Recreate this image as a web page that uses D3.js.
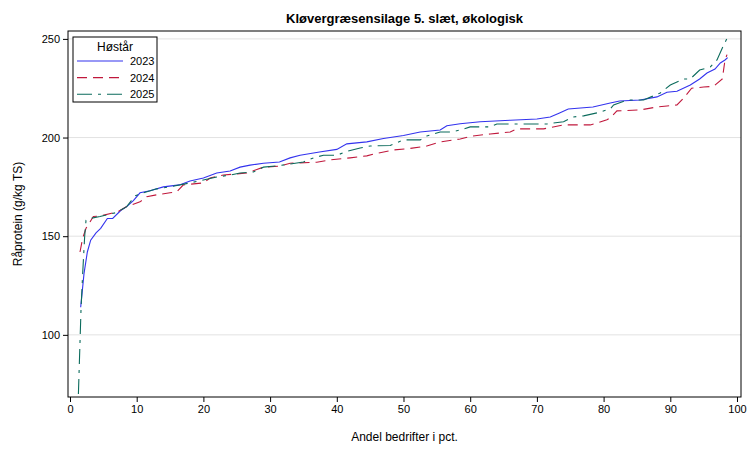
<!DOCTYPE html>
<html>
<head>
<meta charset="utf-8">
<script src="https://cdn.jsdelivr.net/npm/d3@7"></script>
<style>
  body { margin: 0; background: #fff; }
  svg text { font-family: "Liberation Sans", Arial, sans-serif; }
</style>
</head>
<body>
<svg id="chart" width="756" height="454"></svg>
<script>
// values: percentile of farms vs. raw protein
var pct2023 = [1.6, 2.1, 2.6, 3.1, 3.9, 4.6, 5.6, 6.4, 7.6, 8.5, 9.5, 10.5, 12, 14, 16.4, 18, 20, 22, 24, 25.5, 27, 29, 31.4, 33, 34.5, 37.4, 40, 41.5, 44.5, 47, 50, 52.5, 55.5, 56.5, 58.5, 61.5, 66, 70, 72, 73.4, 74.7, 78.4, 81, 82.4, 85.5, 88, 89.5, 91, 93, 94.4, 95.5, 96.7, 97.5, 98.2, 98.6];
var val2023 = [114, 131, 142, 148, 151.7, 154, 159, 159, 163, 165, 168, 172, 173, 175, 176, 178, 179.5, 182, 183, 185, 186, 187, 187.6, 189.7, 191, 192.7, 194, 196.8, 197.8, 199.5, 201, 202.8, 203.8, 206, 207, 208, 208.8, 209.4, 210.4, 212.5, 214.5, 215.5, 217.5, 218.5, 219, 220.6, 223, 223.5, 226.6, 229.7, 232.7, 234.7, 237.8, 239.3, 240.5];

var pct2024 = [1.5, 1.9, 2.4, 2.9, 3.5, 4.6, 7.1, 8.5, 10.5, 11.5, 13, 15, 16, 17, 20, 21, 23, 26.5, 29, 31.4, 33, 37, 39, 42, 44.5, 46, 48.5, 51, 53.5, 55.5, 58.5, 60.4, 63, 66, 67, 71, 74, 78, 79, 80.5, 81, 82, 85.5, 88, 89.5, 91, 92, 93.2, 95, 96.5, 97.8, 98.2, 98.5];
var val2024 = [142, 149, 154, 156.7, 160, 160.3, 162.3, 165, 167.4, 170, 171, 172, 172.5, 176, 177, 179.5, 181, 182, 185, 185.5, 187, 187.5, 188.7, 189.7, 190.7, 192, 193.7, 194.5, 195.7, 197.8, 199.3, 200.8, 201.8, 202.8, 204.4, 204.4, 206.4, 206.4, 207.4, 209, 210, 213.5, 214, 215.5, 216, 216.5, 220, 225, 225.6, 226, 229.7, 239.3, 242];

var pct2025 = [1.26, 1.65, 1.9, 2.2, 2.4, 3, 4.5, 7, 8.5, 9.2, 9.8, 11, 13, 15, 18, 20, 22, 24, 25.5, 27.5, 29, 31, 35, 36.5, 38, 40, 41.5, 43.5, 45, 48, 50, 52.5, 53.5, 55.5, 57, 58.5, 60, 63, 64, 71.5, 74, 75.4, 77, 79, 81, 81.5, 83.5, 86, 88.5, 90, 92, 93, 94.4, 96, 97, 97.8, 98.6];
var val2025 = [70, 112.7, 131, 150, 158, 159, 160, 162, 165, 168, 170.5, 172, 174, 175, 177, 178.5, 180, 181, 182, 182.6, 185, 185.6, 187.6, 189.7, 191, 191, 193, 194.7, 195.7, 196, 198.8, 198.8, 200.8, 202.8, 202.8, 203.8, 205.4, 205.4, 206.9, 206.9, 208, 210.4, 211, 212.5, 214.5, 216.5, 219, 219, 222.6, 226.6, 229.7, 229.7, 234.2, 235.8, 239.3, 245.4, 251];

var years = ["2023", "2024", "2025"];
var xTicks = [0, 10, 20, 30, 40, 50, 60, 70, 80, 90, 100];
var yTicks = [100, 150, 200, 250];

(function draw() {
  var series = [
    {name: years[0], pct: pct2023, val: val2023, color: "#3333ee", dash: null},
    {name: years[1], pct: pct2024, val: val2024, color: "#c0183c", dash: "10,6"},
    {name: years[2], pct: pct2025, val: val2025, color: "#0b6b5c", dash: "15,6,3,6"}
  ];

  var svg = d3.select("#chart");
  var pl = 68, pr = 741, pt = 31, pb = 397;

  var x = d3.scaleLinear().domain([-0.3, 100.6]).range([pl, pr]);
  var y = d3.scaleLinear().domain([68.5, 254]).range([pb, pt]);

  // gridlines
  svg.append("g").selectAll("line")
    .data(yTicks)
    .enter().append("line")
    .attr("x1", pl).attr("x2", pr)
    .attr("y1", d => y(d)).attr("y2", d => y(d))
    .attr("stroke", "#e3e3e3").attr("stroke-width", 1);

  // axes
  var xAxis = svg.append("g")
    .attr("transform", `translate(0,${pb})`)
    .call(d3.axisBottom(x).tickValues(xTicks).tickSize(5).tickPadding(3).tickSizeOuter(0));
  var yAxis = svg.append("g")
    .attr("transform", `translate(${pl},0)`)
    .call(d3.axisLeft(y).tickValues(yTicks).tickSize(5).tickPadding(3).tickSizeOuter(0));
  [xAxis, yAxis].forEach(function(a){
    a.select(".domain").remove();
    a.selectAll("text").attr("font-size", 11).attr("fill", "#000")
      .style("font-family", "'Liberation Sans', Arial, sans-serif");
    a.selectAll(".tick line").attr("stroke", "#000");
  });

  // lines
  var line = d3.line().x(d => x(d[0])).y(d => y(d[1]));
  series.forEach(function(s){
    var pts = s.pct.map((p, i) => [p, s.val[i]]);
    svg.append("path")
      .datum(pts)
      .attr("fill", "none")
      .attr("stroke", s.color)
      .attr("stroke-width", 1.1)
      .attr("stroke-dasharray", s.dash)
      .attr("d", line);
  });

  // frame
  svg.append("rect")
    .attr("x", pl).attr("y", pt)
    .attr("width", pr - pl).attr("height", pb - pt)
    .attr("fill", "none").attr("stroke", "#000").attr("stroke-width", 1);

  // title and axis labels
  svg.append("text")
    .attr("x", (pl + pr) / 2).attr("y", 23)
    .attr("text-anchor", "middle").attr("font-size", 13).attr("font-weight", "bold")
    .text("Kløvergræsensilage 5. slæt, økologisk");

  svg.append("text")
    .attr("x", (pl + pr) / 2).attr("y", 441)
    .attr("text-anchor", "middle").attr("font-size", 12)
    .text("Andel bedrifter i pct.");

  svg.append("text")
    .attr("transform", `translate(22,${(pt + pb) / 2}) rotate(-90)`)
    .attr("text-anchor", "middle").attr("font-size", 12)
    .text("Råprotein (g/kg TS)");

  // legend
  var lg = svg.append("g");
  lg.append("rect")
    .attr("x", 73).attr("y", 37).attr("width", 84).attr("height", 65)
    .attr("fill", "#fff").attr("stroke", "#000").attr("stroke-width", 1);
  lg.append("text")
    .attr("x", 115).attr("y", 51)
    .attr("text-anchor", "middle").attr("font-size", 12)
    .text("Høstår");
  series.forEach(function(s, i){
    var ly = 61 + i * 16.6;
    lg.append("line")
      .attr("x1", 77).attr("x2", 123).attr("y1", ly).attr("y2", ly)
      .attr("stroke", s.color).attr("stroke-width", 1.1)
      .attr("stroke-dasharray", s.dash);
    lg.append("text")
      .attr("x", 130).attr("y", ly + 4)
      .attr("font-size", 11)
      .text(s.name);
  });
})();
</script>
</body>
</html>
